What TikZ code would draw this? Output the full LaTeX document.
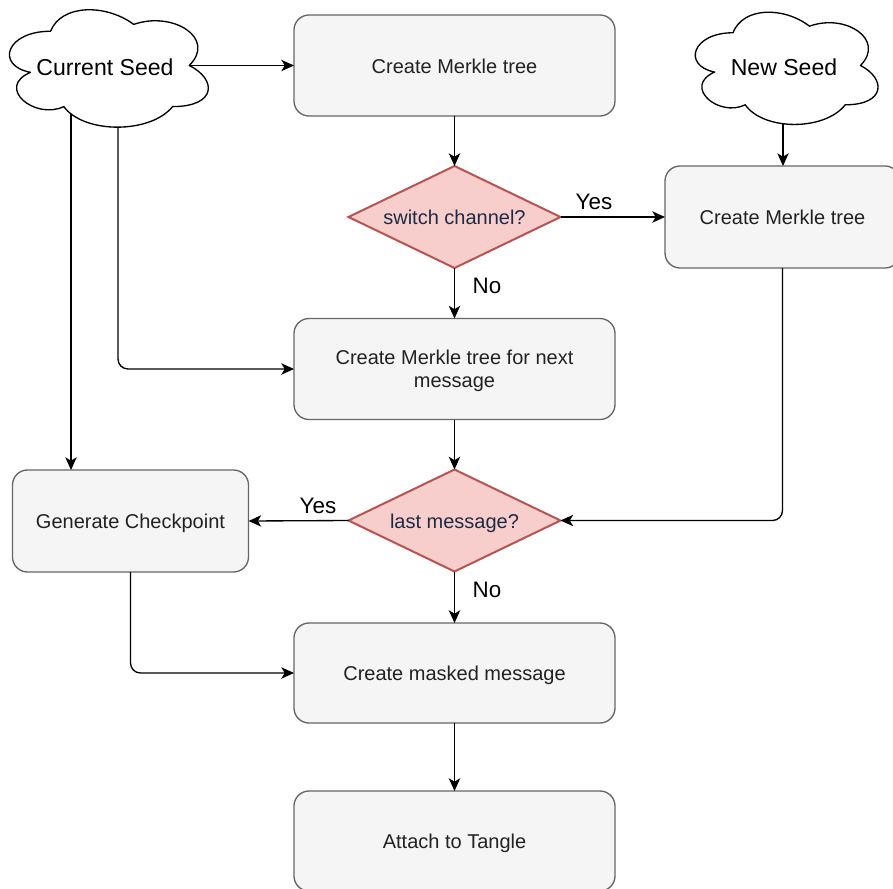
\documentclass[tikz,border=0pt]{standalone}
\usepackage{fontspec}
\setmainfont{Liberation Sans}
\usetikzlibrary{shapes.geometric,arrows.meta}

\definecolor{boxfill}{HTML}{F5F5F5}
\definecolor{boxline}{HTML}{666666}
\definecolor{boxtext}{HTML}{222222}
\definecolor{decfill}{HTML}{F8CECC}
\definecolor{decline}{HTML}{B85450}
\definecolor{dectext}{HTML}{1C2B45}

% one drawing unit = one pixel of the layout grid
\newcommand\pxu{0.75pt}

% cloud outline inside the box (x0,y0) of size w x h
\newcommand\cloudoutline[4]{%
  \draw[cloudline, shift={(#1,#2)}, xscale=#3, yscale=#4]
    (0.25,0.25) .. controls (0.05,0.25) and (0,0.5) .. (0.16,0.55)
    .. controls (0,0.66) and (0.18,0.9) .. (0.31,0.8)
    .. controls (0.4,1) and (0.7,1) .. (0.8,0.8)
    .. controls (1,0.8) and (1,0.6) .. (0.875,0.5)
    .. controls (1,0.3) and (0.8,0.1) .. (0.625,0.2)
    .. controls (0.5,0.05) and (0.3,0.05) .. (0.25,0.25) -- cycle;}

\tikzset{
  stepbox/.style={draw=boxline, fill=boxfill, line width=1pt,
    rounded corners=15*\pxu, inner sep=0pt, outer sep=0pt,
    text=boxtext, text height=11.5pt, text depth=0pt,
    font=\fontsize{15}{17}\selectfont,
    minimum width=321*\pxu, minimum height=101*\pxu},
  decision/.style={shape=diamond, draw=decline, fill=decfill,
    line width=1.5pt, inner sep=0pt, outer sep=0pt, shape aspect=2.08,
    text=dectext, text height=11.5pt, text depth=0pt,
    font=\fontsize{15}{18}\selectfont,
    minimum width=212*\pxu, minimum height=102*\pxu},
  cloudline/.style={draw=black, fill=white, line width=1pt, line join=round},
  cloudtext/.style={text=black, font=\fontsize{17.3}{20}\selectfont, inner sep=0pt},
  lbl/.style={text=black, font=\fontsize{16.8}{20}\selectfont, inner sep=0pt},
  conn/.style={draw=black, line width=1pt,
    -{Stealth[length=9.5pt, width=8.5pt, inset=2.5pt]}},
}

\begin{document}
\begin{tikzpicture}[x=0.75pt, y=-0.75pt]
  \useasboundingbox (0,0) rectangle (893,889);
  \clip (0,0) rectangle (893,889);

  % seeds
  \cloudoutline{-5}{-3}{222}{137}
  \node[cloudtext] (cur) at (105,67) {Current Seed};
  \coordinate (curR) at (189,65.5);
  \coordinate (curA) at (71,114);
  \coordinate (curB) at (118,127);

  \cloudoutline{682}{0}{204}{131}
  \node[cloudtext] (new) at (784,67) {New Seed};
  \coordinate (newB) at (783,123.5);

  % process steps
  \node[stepbox] (mt1) at (454.5,65.5) {Create Merkle tree};
  \node[decision] (sw) at (454.5,217) {switch channel?};
  \node[stepbox, minimum width=235*\pxu, minimum height=102*\pxu]
       (mt2) at (782.5,217) {Create Merkle tree};
  \node[stepbox, text height=27pt] (mtn) at (454.5,369)
       {\begin{tabular}[b]{@{}c@{}}Create Merkle tree for next\\message\end{tabular}};
  \node[decision] (last) at (454.5,520.5) {last message?};
  \node[stepbox, minimum width=236*\pxu, minimum height=102*\pxu]
       (chk) at (130.5,521) {Generate Checkpoint};
  \node[stepbox, minimum height=100*\pxu] (mask) at (454.5,673) {Create masked message};
  \node[stepbox, minimum height=100*\pxu] (att) at (454.5,841) {Attach to Tangle};

  % connectors
  \draw[conn] (curR) -- (mt1.west);
  \draw[conn] (mt1.south) -- (sw.north);
  \draw[conn] (newB) -- (newB |- mt2.north);
  \draw[conn] (sw.east) -- (mt2.west);
  \draw[conn] (sw.south) -- (mtn.north);
  \draw[conn, rounded corners=7.5pt] (curB) |- (mtn.west);
  \draw[conn] (curA) -- (curA |- chk.north);
  \draw[conn] (mtn.south) -- (last.north);
  \draw[conn, rounded corners=7.5pt] (mt2.south) |- (last.east);
  \draw[conn] (last.west) -- (chk.east);
  \draw[conn] (last.south) -- (mask.north);
  \draw[conn, rounded corners=7.5pt] (chk.south) |- (mask.west);
  \draw[conn] (mask.south) -- (att.north);

  % branch labels
  \node[lbl] (yes1) at (594,202) {Yes};
  \node[lbl] (no1) at (487,286) {No};
  \node[lbl] (yes2) at (318,506) {Yes};
  \node[lbl] (no2) at (487,590) {No};
\end{tikzpicture}
\end{document}
